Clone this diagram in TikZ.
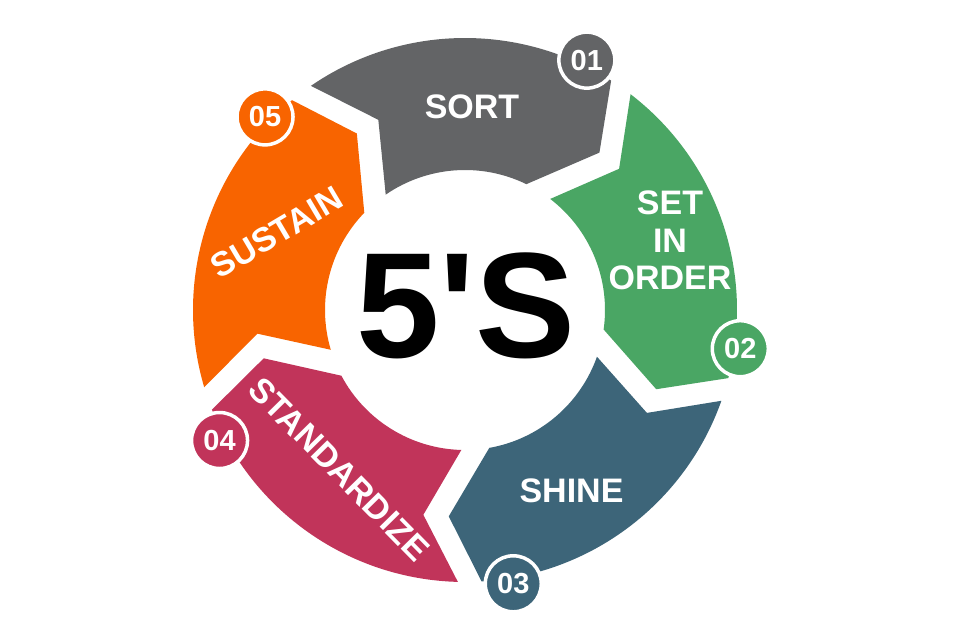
\documentclass[tikz,border=0pt]{standalone}
\usepackage{fontspec}
\setmainfont{Liberation Sans}
\newfontfamily\fivefont[Ligatures=TeXOff]{Liberation Sans}
\definecolor{cgray}{HTML}{636466}
\definecolor{cgreen}{HTML}{4AA664}
\definecolor{cblue}{HTML}{3D6579}
\definecolor{ccrim}{HTML}{C1345A}
\definecolor{corange}{HTML}{F86400}
\newcommand\fivesseg[2]{%
  \fill[#2] ({#1}:272) arc[start angle={#1}, end angle={#1-67}, radius=272]
    -- ({#1-75}:207) -- ({#1-60.5}:140)
    arc[start angle={#1-60.5}, end angle={#1}, radius=140]
    -- ({#1-10}:209) -- cycle;}
\tikzset{
  lbl/.style={text=white, font=\fontsize{34}{37.5}\selectfont\bfseries, align=center, inner sep=0},
  badge/.style={circle, fill=#1, draw=white, line width=3.5pt, minimum size=56pt, inner sep=0,
    text=white, font=\fontsize{29}{29}\selectfont\bfseries},
}
\begin{document}
\begin{tikzpicture}[x=1pt,y=1pt]
\useasboundingbox[fill=white] (-465,-330) rectangle (495,310);
\fivesseg{124.5}{cgray}
\fivesseg{52.5}{cgreen}
\fivesseg{-19.5}{cblue}
\fivesseg{-91.5}{ccrim}
\fivesseg{-163.5}{corange}
\node[lbl] (sort) at (7,203) {SORT};
\node[lbl] (set) at (205,69.5) {SET\\IN\\ORDER};
\node[lbl] (shine) at (106.5,-180.5) {SHINE};
\node[lbl, rotate=-45.5] (std) at (-126,-159) {STANDARDIZE};
\node[lbl, rotate=30.6] (sus) at (-188,77.5) {SUSTAIN};
\node[inner sep=0, font=\fivefont\fontsize{150}{150}\selectfont\bfseries] (five) at (1,4) {5'S};
\node[badge=cgray] (b1) at (64:278) {01};
\node[badge=cgreen] (b2) at (-8:278) {02};
\node[badge=cblue] (b3) at (-80:278) {03};
\node[badge=ccrim] (b4) at (-152:278) {04};
\node[badge=corange] (b5) at (136:278) {05};
\end{tikzpicture}
\end{document}
